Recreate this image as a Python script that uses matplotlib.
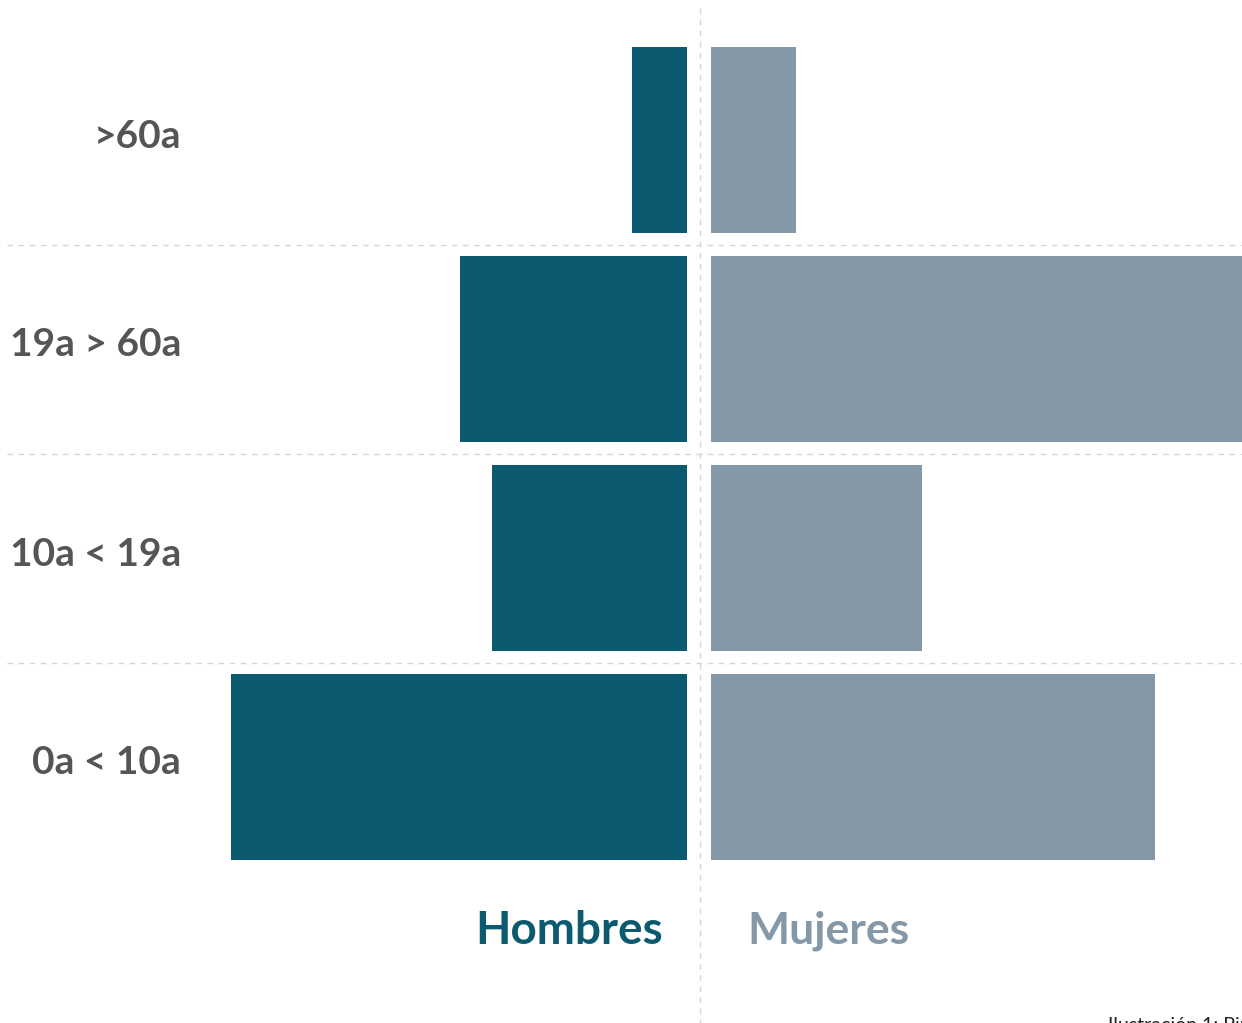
import matplotlib
matplotlib.use("Agg")
import matplotlib.pyplot as plt

# data (bar lengths, arbitrary units)
age_groups = [">60a", "19a > 60a", "10a < 19a", "0a < 10a"]
hombres = [55, 227, 195, 456]
mujeres = [85, 531, 211, 444]

MALE = "#0b5a70"
FEMALE = "#8498a8"
LABEL = "#555555"
GRID = "#d6d6d6"
FONT = ["Lato", "DejaVu Sans"]

fig = plt.figure(figsize=(12.42, 10.23), dpi=100, facecolor="white")
ax = fig.add_axes([0, 0, 1, 1])
ax.set_xlim(-700, 542)
ax.set_ylim(1023, 0)
ax.axis("off")

row_h = 209
first = 140
pos = [first + row_h * i for i in range(len(age_groups))]

ax.barh(pos, hombres, left=[-13 - v for v in hombres], height=186, color=MALE)
ax.barh(pos, mujeres, left=11, height=186, color=FEMALE)

for i, (p, lab) in enumerate(zip(pos, age_groups)):
    ax.text(-519, p - 4, lab, ha="right", va="center", fontsize=28, fontweight="bold",
            color=LABEL, family=FONT)
    if i < len(age_groups) - 1:
        ax.plot([-693, 542], [p + row_h / 2, p + row_h / 2], color=GRID, lw=1,
                dashes=(4, 4), zorder=0)

ax.plot([0, 0], [8, 1023], color=GRID, lw=1, dashes=(4, 4), zorder=0)

ax.text(-37, 931, "Hombres", ha="right", va="center", fontsize=33,
        fontweight="bold", color=MALE, family=FONT)
ax.text(47, 931, "Mujeres", ha="left", va="center", fontsize=32,
        fontweight="bold", color=FEMALE, family=FONT)

ax.text(408, 1031, "Ilustración 1: Pirámide poblacional", ha="left",
        va="baseline", fontsize=14, color="#222222", family=FONT)

fig.savefig("out.png", dpi=100, facecolor="white")
